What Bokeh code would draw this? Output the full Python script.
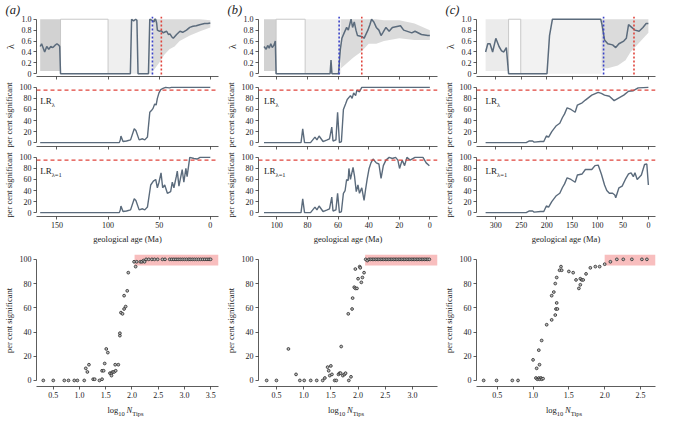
from bokeh.plotting import figure
from bokeh.models import Range1d, Span, Label, FixedTicker, CustomJSTickFormatter, Div
from bokeh.layouts import row, column
from bokeh.embed import file_html
from bokeh.resources import INLINE

FONT = "Liberation Serif"
AXIS = "#333333"
MED = "#5b6b7c"
GRAY = "#a6a6a6"
BOXC = "#c8c8c8"
RED = "#e0443c"
BLUE = "#3a42c8"
PINK = "#f7b3b3"

# ---------------- panel (a) ----------------
A_LAM_AGE = [166.4, 165, 163, 162, 160, 158, 156, 154, 152, 150, 148, 147.3, 146.5,
             78.2, 77, 75, 73, 71.8, 70.7,
             60.5, 59.2, 57, 55, 54.4, 53.5, 52.5, 51.8, 50, 48, 46, 44, 42.7, 41, 39.5, 37.8,
             36.2, 33, 29.7, 27, 23.3, 20.1, 17, 13.7, 10.5, 5.6, 2.5, 0]
A_LAM_MED = [0.50, 0.55, 0.45, 0.40, 0.50, 0.45, 0.50, 0.48, 0.52, 0.55, 0.52, 0.50, 0.0,
             0.0, 1.0, 0.97, 1.0, 0.98, 0.0,
             0.0, 1.0, 0.98, 0.95, 1.0, 1.0, 0.93, 0.80, 0.78, 0.79, 0.75, 0.77, 0.78, 0.72, 0.73, 0.68,
             0.65, 0.72, 0.78, 0.76, 0.80, 0.85, 0.87, 0.88, 0.90, 0.92, 0.92, 0.93]
A_GRAY_AGE = [166.4, 146.5, 100, 56, 56, 50, 45, 40, 35, 30, 20, 10, 0]
A_GRAY_LO = [0.05, 0.05, 0.0, 0.0, 0.05, 0.2, 0.35, 0.45, 0.5, 0.6, 0.7, 0.78, 0.85]
A_GRAY_HI = [1.0, 1.0, 1.0, 1.0, 1.0, 1.0, 1.0, 1.0, 1.0, 1.0, 1.0, 1.0, 0.98]
A_GRAY_SEG = [0, 0, 1, 1, 2, 2, 2, 2, 2, 2, 2, 2, 2]
A_GRAY_ALPHA = [0.5, 0.18, 0.4]
A_BOX_AGE = [146.5, 146.5, 100, 100]
A_BOX_LAM = [0, 1, 1, 0]
A_BLUE, A_RED = 56.6, 47.9
A_LR_AGE = [166.4, 89, 88, 87.4, 85.4, 82, 78, 74.4, 72.8, 69.6, 66.3, 64.1, 61.5, 59.2, 57.6,
            56, 54.4, 53, 51.8, 50.2, 48.5, 46.3, 43.7, 40, 38, 0]
A_LR_VAL = [0, 0, 5, 12, 2, 3, 5, 25, 22, 5, 7, 5, 10, 55, 58, 62, 70, 68, 80, 90, 96, 98, 100,
            99, 100, 100]
A_LR1_AGE = [166.4, 89, 88, 87.4, 85.4, 82, 78, 74.4, 72.8, 69.6, 66.3, 64.1, 61.5, 58.3, 55.7,
             53.4, 51.8, 50.2, 48.2, 46.6, 44.6, 42, 38.8, 37.2, 35.6, 33.3, 32.3, 30.7, 27.5,
             25.9, 23.9, 22.7, 20.1, 16, 13, 10, 0]
A_LR1_VAL = [0, 0, 5, 12, 2, 3, 5, 25, 22, 5, 7, 5, 10, 50, 57, 60, 45, 55, 72, 45, 50, 35, 38,
             55, 45, 65, 75, 48, 78, 55, 80, 65, 100, 98, 97, 100, 100]
A_AGE_RANGE = (170, -8)
A_AGE_TICKS = [150, 100, 50, 0]
A_PTS = [(0.31, 0), (0.50, 0), (0.71, 0), (0.79, 0), (0.90, 0), (0.96, 0), (1.09, 0), (1.12, 10),
         (1.15, 7), (1.18, 13), (1.26, 1), (1.29, 1), (1.38, 0), (1.43, 1), (1.43, 8), (1.46, 8),
         (1.48, 14), (1.51, 26), (1.54, 23), (1.58, 6), (1.61, 6), (1.61, 4), (1.63, 7), (1.66, 7),
         (1.69, 8), (1.68, 13), (1.74, 13), (1.77, 37), (1.77, 39), (1.79, 56), (1.82, 55),
         (1.85, 59), (1.85, 70), (1.88, 61), (1.91, 74), (1.93, 89), (2.04, 98), (2.07, 94),
         (2.09, 98), (2.16, 98), (2.19, 98), (2.22, 99), (2.24, 98), (2.27, 100), (2.32, 100),
         (2.38, 100), (2.43, 100), (2.49, 100), (2.58, 100), (2.63, 100), (2.72, 100), (2.76, 100),
         (2.80, 100), (2.84, 100), (2.88, 100), (2.92, 100), (2.96, 100), (3.00, 100), (3.04, 100),
         (3.08, 100), (3.11, 100), (3.15, 100), (3.19, 100), (3.23, 100), (3.27, 100), (3.31, 100),
         (3.35, 100), (3.39, 100), (3.43, 100), (3.47, 100), (3.50, 100)]
A_THR = 2.05
A_SC_RANGE = (0.18, 3.65)
A_SC_TICKS = [0.5, 1.0, 1.5, 2.0, 2.5, 3.0, 3.5]

# ---------------- panel (b) ----------------
B_LAM_AGE = [108.4, 107, 106, 105, 104, 103, 102, 101, 100.5, 65.2, 64.6, 64, 59.7, 58.5, 57.5,
             56, 54.4, 53.3, 51.5, 50.5, 49.4, 48.3, 47.3, 44.1, 43, 40.5, 39.2, 38.1, 36.6, 35,
             33.3, 31.9, 30.8, 28.7, 26.6, 24.5, 19.2, 17.1, 11.8, 9.7, 5.5, 1.3, 0]
B_LAM_MED = [0.50, 0.45, 0.52, 0.47, 0.55, 0.48, 0.52, 0.60, 0.0, 0.0, 0.25, 0.0, 0.0, 0.45, 0.65,
             0.75, 0.85, 0.80, 1.0, 0.85, 0.95, 0.80, 0.70, 0.68, 0.65, 0.80, 0.90, 1.0, 0.95, 0.85,
             0.80, 0.70, 0.75, 0.85, 0.78, 0.85, 0.88, 0.80, 0.75, 0.78, 0.72, 0.70, 0.70]
B_GRAY_AGE = [108.4, 100.5, 81.5, 58, 58, 50, 45, 40, 35, 30, 20, 10, 0]
B_GRAY_LO = [0.05, 0.05, 0.0, 0.0, 0.1, 0.3, 0.4, 0.55, 0.55, 0.6, 0.65, 0.62, 0.62]
B_GRAY_HI = [1.0, 1.0, 1.0, 1.0, 1.0, 1.0, 1.0, 1.0, 1.0, 0.98, 0.98, 0.92, 0.8]
B_GRAY_SEG = [0, 0, 1, 1, 2, 2, 2, 2, 2, 2, 2, 2, 2]
B_GRAY_ALPHA = [0.5, 0.18, 0.4]
B_BOX_AGE = [100.5, 100.5, 81.5, 81.5]
B_BOX_LAM = [0, 1, 1, 0]
B_BLUE, B_RED = 59.3, 44.5
B_LR_AGE = [108.4, 84.2, 83.1, 81.9, 78, 75.1, 73.8, 72.4, 69.8, 67.1, 65.6, 64.1, 63.3, 61.4,
            60.3, 59.1, 57.8, 56.5, 55.1, 54.0, 51.9, 50.8, 49.8, 48.5, 47.7, 46, 44.5, 0]
B_LR_VAL = [0, 0, 25, 0, 0, 10, 5, 12, 2, 5, 7, 28, 3, 5, 55, 0, 2, 60, 70, 78, 85, 80, 90, 85,
            95, 92, 100, 100]
B_LR1_AGE = [108.4, 84.2, 83.1, 81.9, 78, 75.1, 73.8, 72.4, 69.8, 67.1, 65.6, 64.1, 63.3, 61.4,
             60.3, 59.1, 57.8, 56.5, 55.4, 54.4, 53.4, 52.9, 51.9, 50.2, 49.2, 48.1, 47.0, 46,
             44.5, 43.0, 42.0, 41.0, 39.7, 38.5, 37.1, 35.0, 33.3, 31.9, 30.4, 28.7, 26.6, 24.5,
             22.4, 20.9, 19.8, 18.1, 16.5, 15, 12.9, 9.7, 4.5, 2.4, 0.3]
B_LR1_VAL = [0, 0, 25, 0, 0, 10, 5, 12, 2, 5, 7, 28, 3, 5, 35, 0, 2, 35, 40, 60, 58, 80, 60, 82,
             65, 38, 50, 35, 45, 22, 42, 60, 80, 90, 97, 90, 88, 62, 85, 95, 100, 98, 100, 95, 80,
             95, 85, 100, 95, 100, 100, 90, 85]
B_AGE_RANGE = (112, -5)
B_AGE_TICKS = [100, 80, 60, 40, 20, 0]
B_PTS = [(0.32, 0), (0.50, 0), (0.72, 26), (0.86, 5), (0.93, 0), (1.01, 0), (1.13, 0), (1.24, 0),
         (1.35, 0), (1.39, 2), (1.44, 11), (1.46, 8), (1.48, 4), (1.50, 12), (1.52, 5), (1.57, 0),
         (1.60, 0), (1.64, 5), (1.66, 6), (1.68, 6), (1.69, 28), (1.72, 4), (1.75, 5), (1.77, 6),
         (1.82, 55), (1.83, 0), (1.87, 3), (1.89, 59), (1.90, 68), (1.93, 77), (1.95, 76),
         (1.98, 76), (1.95, 92), (2.00, 84), (2.03, 94), (2.04, 93), (2.06, 81), (2.08, 85),
         (2.11, 89), (2.14, 100), (2.17, 99), (2.20, 100), (2.23, 100), (2.26, 100), (2.29, 100),
         (2.32, 100), (2.35, 100), (2.38, 100), (2.41, 100), (2.44, 100), (2.47, 100), (2.50, 100),
         (2.53, 100), (2.56, 100), (2.59, 100), (2.62, 100), (2.65, 100), (2.68, 100), (2.71, 100),
         (2.74, 100), (2.77, 100), (2.80, 100), (2.83, 100), (2.86, 100), (2.89, 100), (2.92, 100),
         (2.95, 100), (2.98, 100), (3.01, 100), (3.04, 100), (3.07, 100), (3.10, 100), (3.13, 100),
         (3.16, 100), (3.19, 100), (3.22, 100), (3.25, 100), (3.28, 100), (3.31, 100)]
B_THR = 2.13
B_SC_RANGE = (0.17, 3.46)
B_SC_TICKS = [0.5, 1.0, 1.5, 2.0, 2.5, 3.0]

# ---------------- panel (c) ----------------
C_LAM_AGE = [320.1, 315.8, 311.4, 306.3, 300, 293.7, 288.7, 284.3, 279.3, 274.9, 199.4, 194.4,
             188.7, 93.7, 91.2, 86.2, 79.9, 70.4, 64.2, 57.9, 48.4, 43.4, 39, 32.7, 26.4, 18.2,
             10.7, 4.4, 0]
C_LAM_MED = [0.40, 0.55, 0.55, 0.40, 0.65, 0.50, 0.42, 0.40, 0.48, 0.0, 0.0, 0.70, 1.0, 1.0, 0.90,
             0.62, 0.55, 0.53, 0.48, 0.55, 0.60, 0.65, 0.90, 0.85, 0.80, 0.78, 0.85, 0.92, 0.92]
C_GRAY_AGE = [320.1, 274.9, 251, 92, 92, 80, 60, 45, 35, 25, 15, 5, 0]
C_GRAY_LO = [0.05, 0.05, 0.0, 0.0, 0.1, 0.1, 0.15, 0.25, 0.4, 0.5, 0.6, 0.7, 0.75]
C_GRAY_HI = [1.0, 1.0, 1.0, 1.0, 1.0, 1.0, 1.0, 1.0, 1.0, 1.0, 1.0, 1.0, 1.0]
C_GRAY_SEG = [0, 0, 1, 1, 2, 2, 2, 2, 2, 2, 2, 2, 2]
C_GRAY_ALPHA = [0.22, 0.15, 0.4]
C_BOX_AGE = [274.9, 274.9, 251, 251]
C_BOX_LAM = [0, 1, 1, 0]
C_BLUE, C_RED = 88.1, 28.3
C_LR_AGE = [320.1, 240.3, 234.0, 227.7, 224.6, 212.0, 205.7, 200.6, 196.2, 190.0, 181.8, 174.2,
            169.2, 164.8, 159.8, 152.2, 144.0, 139.6, 130.2, 123.9, 111.3, 98.7, 92.5, 86.2,
            76.7, 67.3, 57.9, 48.4, 39.0, 29.6, 20.1, 0]
C_LR_VAL = [0, 0, 3, 3, 1, 2, 2, 12, 10, 20, 30, 35, 45, 52, 63, 60, 55, 68, 72, 77, 86, 91, 89,
            86, 84, 76, 81, 86, 93, 94, 99, 100]
C_LR1_AGE = [320.1, 240.3, 234.0, 227.7, 224.6, 212.0, 205.7, 200.6, 196.2, 190.0, 181.8, 174.2,
             169.2, 164.8, 159.8, 152.2, 144.0, 139.6, 130.2, 123.9, 111.3, 105.0, 98.7, 92.5,
             86.2, 81.8, 76.7, 70.4, 66.0, 64.2, 57.9, 51.6, 45.3, 39.0, 34.0, 29.6, 26.4, 22.0,
             13.8, 7.5, 3.1, 0]
C_LR1_VAL = [0, 0, 3, 3, 1, 2, 2, 12, 10, 20, 30, 35, 45, 52, 63, 60, 55, 68, 70, 78, 78, 85, 86,
             70, 50, 40, 35, 35, 32, 27, 45, 48, 60, 70, 72, 65, 72, 60, 68, 87, 88, 50]
C_AGE_RANGE = (338, -14)
C_AGE_TICKS = [300, 250, 200, 150, 100, 50, 0]
C_PTS = [(0.31, 0), (0.49, 0), (0.71, 0), (0.79, 0), (1.00, 17), (1.05, 10), (1.04, 2), (1.06, 1),
         (1.08, 2), (1.09, 1), (1.11, 2), (1.12, 1), (1.14, 1.5), (1.08, 25), (1.09, 13),
         (1.12, 33), (1.19, 46), (1.26, 50), (1.26, 70), (1.29, 73), (1.31, 54), (1.31, 80),
         (1.32, 59), (1.34, 59), (1.33, 64), (1.33, 85), (1.37, 91), (1.40, 91), (1.39, 94),
         (1.50, 90), (1.56, 89), (1.60, 83), (1.64, 76), (1.66, 84), (1.68, 83), (1.66, 79),
         (1.70, 83), (1.74, 88), (1.80, 93), (1.87, 94), (1.93, 94), (2.00, 96), (2.08, 98),
         (2.17, 100), (2.26, 100), (2.38, 100), (2.52, 100), (2.59, 100)]
C_THR = 2.0
C_SC_RANGE = (0.21, 2.71)
C_SC_TICKS = [0.5, 1.0, 1.5, 2.0, 2.5]

SIG_LEVEL = 95
LAM_TICKS = [0, 0.2, 0.4, 0.6, 0.8, 1.0]
PCT_TICKS = [0, 20, 40, 60, 80, 100]

PANELS = [
    dict(label="(a)", lam_age=A_LAM_AGE, lam_med=A_LAM_MED, g_age=A_GRAY_AGE, g_lo=A_GRAY_LO,
         g_hi=A_GRAY_HI, g_seg=A_GRAY_SEG, g_alpha=A_GRAY_ALPHA, box_age=A_BOX_AGE,
         box_lam=A_BOX_LAM, blue=A_BLUE, red=A_RED, lr_age=A_LR_AGE, lr_val=A_LR_VAL,
         lr1_age=A_LR1_AGE, lr1_val=A_LR1_VAL, age_range=A_AGE_RANGE, age_ticks=A_AGE_TICKS,
         pts=A_PTS, thr=A_THR, sc_range=A_SC_RANGE, sc_ticks=A_SC_TICKS),
    dict(label="(b)", lam_age=B_LAM_AGE, lam_med=B_LAM_MED, g_age=B_GRAY_AGE, g_lo=B_GRAY_LO,
         g_hi=B_GRAY_HI, g_seg=B_GRAY_SEG, g_alpha=B_GRAY_ALPHA, box_age=B_BOX_AGE,
         box_lam=B_BOX_LAM, blue=B_BLUE, red=B_RED, lr_age=B_LR_AGE, lr_val=B_LR_VAL,
         lr1_age=B_LR1_AGE, lr1_val=B_LR1_VAL, age_range=B_AGE_RANGE, age_ticks=B_AGE_TICKS,
         pts=B_PTS, thr=B_THR, sc_range=B_SC_RANGE, sc_ticks=B_SC_TICKS),
    dict(label="(c)", lam_age=C_LAM_AGE, lam_med=C_LAM_MED, g_age=C_GRAY_AGE, g_lo=C_GRAY_LO,
         g_hi=C_GRAY_HI, g_seg=C_GRAY_SEG, g_alpha=C_GRAY_ALPHA, box_age=C_BOX_AGE,
         box_lam=C_BOX_LAM, blue=C_BLUE, red=C_RED, lr_age=C_LR_AGE, lr_val=C_LR_VAL,
         lr1_age=C_LR1_AGE, lr1_val=C_LR1_VAL, age_range=C_AGE_RANGE, age_ticks=C_AGE_TICKS,
         pts=C_PTS, thr=C_THR, sc_range=C_SC_RANGE, sc_ticks=C_SC_TICKS),
]

WIDTHS = [222, 218, 218]
ML = 33
MRS = [4, 3, 3]
H_LAM, H_LR, H_LR1, H_SC, H_XLAB = 80, 70, 96, 155, 14

BLANK = CustomJSTickFormatter(code="return '';")
LAMFMT = CustomJSTickFormatter(code="return tick == 0 ? '0' : tick.toFixed(1);")
ONEDP = CustomJSTickFormatter(code="return tick.toFixed(1);")


def base_fig(width, height, xr, yr, mr, mt, mb):
    p = figure(width=width, height=height, x_range=Range1d(*xr), y_range=Range1d(*yr),
               output_backend="svg", toolbar_location=None,
               min_border_left=ML, min_border_right=mr, min_border_top=mt,
               min_border_bottom=mb)
    p.outline_line_color = None
    p.xgrid.visible = False
    p.ygrid.visible = False
    for ax in p.axis:
        ax.axis_line_color = AXIS
        ax.axis_line_width = 0.8
        ax.major_tick_line_color = AXIS
        ax.major_tick_line_width = 0.8
        ax.minor_tick_line_color = None
        ax.major_tick_in = 0
        ax.major_tick_out = 3
        ax.major_label_text_font = FONT
        ax.major_label_text_font_size = "8px"
        ax.major_label_text_color = "#222222"
        ax.major_label_standoff = 2
        ax.axis_label_text_font = FONT
        ax.axis_label_text_font_size = "8.5px"
        ax.axis_label_text_font_style = "normal"
        ax.axis_label_text_color = "#222222"
        ax.axis_label_standoff = 3
    return p


def hide_x_labels(p):
    p.xaxis.formatter = BLANK
    p.xaxis.major_label_text_font_size = "0px"
    p.xaxis.major_label_standoff = 0


def lr_panel(width, height, mr, mb, d, ages, vals, sub, show_x):
    p = base_fig(width, height, d["age_range"], (-7, 107), mr, 3, mb)
    p.xaxis.ticker = FixedTicker(ticks=d["age_ticks"])
    p.yaxis.ticker = FixedTicker(ticks=PCT_TICKS)
    p.yaxis.bounds = (0, 100)
    p.yaxis.axis_label = "per cent significant"
    if show_x:
        p.xaxis.axis_label = "geological age (Ma)"
    else:
        hide_x_labels(p)
    p.add_layout(Span(location=SIG_LEVEL, dimension="width", line_color=RED,
                      line_dash="4 3", line_width=1.2))
    p.line(ages, vals, line_color=MED, line_width=1.4)
    x0 = d["lr_age"][0]
    p.add_layout(Label(x=x0, y=75, text="LR", text_font=FONT, text_font_size="9px",
                       text_baseline="middle", text_color="#222222"))
    p.add_layout(Label(x=x0, y=75, x_offset=11.5, y_offset=-3.5, text=sub, text_font=FONT,
                       text_font_size="6.5px", text_baseline="middle", text_color="#222222"))
    return p


cols = []
for i, d in enumerate(PANELS):
    w, mr = WIDTHS[i], MRS[i]

    # lambda panel
    p1 = base_fig(w, H_LAM, d["age_range"], (-0.05, 1.05), mr, 4, 4)
    p1.title.text = d["label"]
    p1.title.text_font = FONT
    p1.title.text_font_size = "12.5px"
    p1.title.text_font_style = "italic"
    p1.title.text_color = "#222222"
    p1.title.standoff = 0
    p1.title.offset = -(ML - 2)
    p1.xaxis.ticker = FixedTicker(ticks=d["age_ticks"])
    hide_x_labels(p1)
    p1.yaxis.ticker = FixedTicker(ticks=LAM_TICKS)
    p1.yaxis.formatter = LAMFMT
    p1.yaxis.bounds = (0, 1)
    p1.yaxis.axis_label = "λ"
    p1.yaxis.axis_label_text_font_size = "10px"
    nseg = len(d["g_alpha"])
    for s in range(nseg):
        idx = [k for k, g in enumerate(d["g_seg"]) if g == s]
        p1.varea(x=[d["g_age"][k] for k in idx], y1=[d["g_lo"][k] for k in idx],
                 y2=[d["g_hi"][k] for k in idx], fill_color=GRAY, fill_alpha=d["g_alpha"][s])
    p1.line(d["box_age"], d["box_lam"], line_color=BOXC, line_width=1)
    p1.line(d["lam_age"], d["lam_med"], line_color=MED, line_width=1.5)
    p1.add_layout(Span(location=d["blue"], dimension="height", line_color=BLUE,
                       line_dash="2 2", line_width=1.6))
    p1.add_layout(Span(location=d["red"], dimension="height", line_color=RED,
                       line_dash="2 2", line_width=1.6))

    p2 = lr_panel(w, H_LR, mr, 4, d, d["lr_age"], d["lr_val"], "λ", False)
    p3 = lr_panel(w, H_LR1, mr, 30, d, d["lr1_age"], d["lr1_val"], "λ=1", True)

    # scatter panel
    p4 = base_fig(w, H_SC, d["sc_range"], (-5, 104), mr, 8, 15)
    p4.xaxis.ticker = FixedTicker(ticks=d["sc_ticks"])
    p4.xaxis.formatter = ONEDP
    p4.yaxis.ticker = FixedTicker(ticks=PCT_TICKS)
    p4.yaxis.bounds = (0, 100)
    p4.yaxis.axis_label = "per cent significant"
    p4.quad(left=[d["thr"]], right=[d["sc_range"][1]], bottom=[SIG_LEVEL], top=[104],
            fill_color=PINK, fill_alpha=0.85, line_color=None)
    xs = [pt[0] for pt in d["pts"]]
    ys = [pt[1] for pt in d["pts"]]
    p4.scatter(xs, ys, marker="circle", size=2.8, fill_color="#bbbbbb",
               line_color="#2a2a2a", line_width=0.8)

    xlab = Div(
        text=(f'<div style="width:{w}px;padding-left:{ML}px;padding-right:{mr}px;'
              f'box-sizing:border-box;text-align:center;font-family:\'{FONT}\';'
              f'font-size:8.5px;line-height:12px;color:#222222;white-space:nowrap">'
              'log<sub style="font-size:6.5px">10</sub>&#8201;<i>N</i>'
              '<sub style="font-size:6.5px">Tips</sub></div>'),
        width=w, height=H_XLAB, margin=0)

    cols.append(column(p1, p2, p3, p4, xlab, spacing=0))

layout = row(*cols, spacing=0)
open("out.html", "w").write(file_html(layout, INLINE))
